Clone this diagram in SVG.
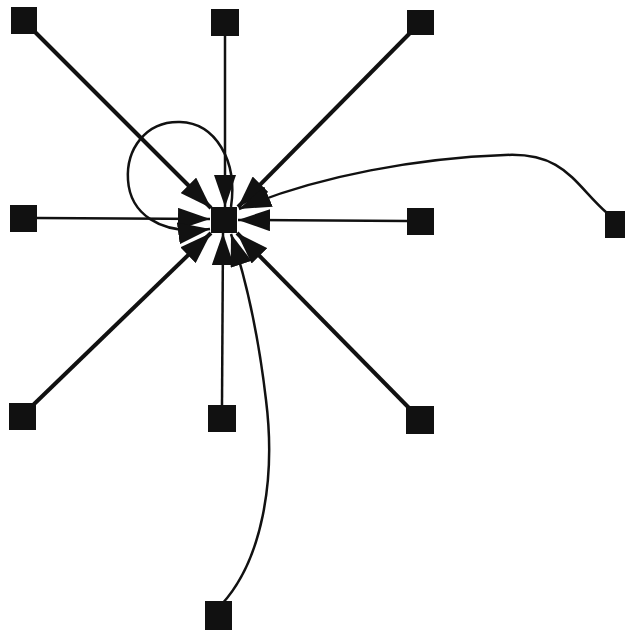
<svg xmlns="http://www.w3.org/2000/svg" width="625" height="635" viewBox="0 0 625 635">
<style>
.n{fill:#111}
.e{fill:none;stroke:#111}
.t{stroke-width:4}
.h{stroke-width:2.5}
</style>
<defs>
<marker id="a" markerUnits="userSpaceOnUse" markerWidth="34" markerHeight="22" refX="32" refY="11" orient="auto" viewBox="0 0 34 22">
<path d="M0,0 L32,11 L0,22 z" fill="#111"/>
</marker>
</defs>
<g id="edges">
<path class="e t" d="M30,27 L211,208" marker-end="url(#a)"/>
<path class="e h" d="M225,36 L225,207" marker-end="url(#a)"/>
<path class="e t" d="M413,30 L238,207" marker-end="url(#a)"/>
<path class="e h" d="M37,218 L210,219" marker-end="url(#a)"/>
<path class="e h" d="M407,221 L238,220" marker-end="url(#a)"/>
<path class="e t" d="M30,408 L211,233" marker-end="url(#a)"/>
<path class="e h" d="M222,405 L223,233" marker-end="url(#a)"/>
<path class="e t" d="M413,412 L237,233" marker-end="url(#a)"/>
<path class="e h" d="M607,213 C575,185 565,152 505,155 C420,158 320,175 239,209" marker-end="url(#a)"/>
<path class="e h" d="M222,604 C262,560 276,480 266,400 C259,340 248,285 231,234" marker-end="url(#a)"/>
<path class="e h" d="M231,207 C238,160 215,123 180,122 C145,121 126,150 128,180 C130,212 158,236 210,229" marker-end="url(#a)"/>
</g>
<g id="center"><rect class="n" x="211" y="207" width="26" height="26"/></g>
<g id="tl"><rect class="n" x="11" y="7" width="26" height="27"/></g>
<g id="tm"><rect class="n" x="211" y="9" width="28" height="27"/></g>
<g id="tr"><rect class="n" x="407" y="10" width="27" height="25"/></g>
<g id="ml"><rect class="n" x="10" y="205" width="27" height="27"/></g>
<g id="mr"><rect class="n" x="407" y="208" width="27" height="27"/></g>
<g id="fr"><rect class="n" x="605" y="211" width="22" height="27"/></g>
<g id="bl"><rect class="n" x="9" y="403" width="27" height="27"/></g>
<g id="bm"><rect class="n" x="208" y="405" width="28" height="27"/></g>
<g id="br"><rect class="n" x="406" y="406" width="28" height="28"/></g>
<g id="b"><rect class="n" x="205" y="601" width="27" height="29"/></g>
</svg>
